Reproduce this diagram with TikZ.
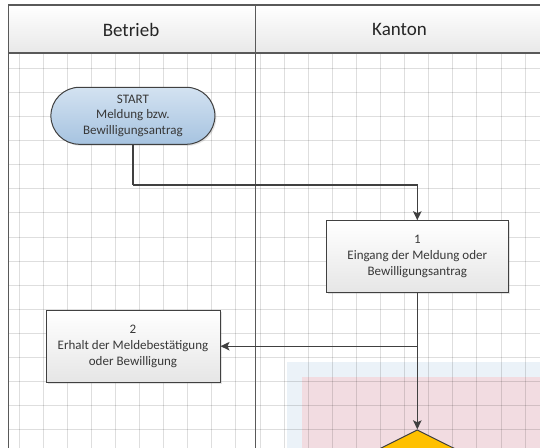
\documentclass[tikz,border=0pt]{standalone}
\usepackage{fontspec}
\setmainfont{Carlito}
\usetikzlibrary{arrows.meta,shapes.geometric,shadows}
\definecolor{linegray}{HTML}{404040}
\definecolor{lanegray}{HTML}{595959}
\definecolor{txtgray}{HTML}{383838}
\definecolor{bluebg}{HTML}{EBF2F8}
\definecolor{pinkbg}{HTML}{F2DCE1}
\definecolor{startTop}{HTML}{D3E2F1}
\definecolor{startBot}{HTML}{A6C3E0}
\definecolor{decision}{HTML}{FFC000}
\tikzset{
  gridline/.style={draw=black, draw opacity=0.13, line width=1pt},
  lane/.style={draw=lanegray, line width=1.6pt},
  hdr/.style={font=\fontsize{19}{22}\selectfont, text=black!85},
  boxbase/.style={draw=linegray, line width=1pt, align=center, text=txtgray,
    font=\fontsize{13}{15.8}\selectfont, inner sep=0pt,
    drop shadow={shadow xshift=1.5pt, shadow yshift=-1.5pt, opacity=0.22}},
  startbox/.style={boxbase, rounded corners=28.5pt, top color=startTop, bottom color=startBot},
  procbox/.style={boxbase, top color=white, bottom color=black!10},
  decbox/.style={diamond, aspect=2, draw=linegray, line width=1pt, fill=decision, inner sep=0pt,
    minimum width=140pt, minimum height=70pt},
  conn/.style={draw=linegray, line width=1.2pt, -{Stealth[length=9pt,width=8.5pt,inset=2pt]}},
  plain/.style={draw=linegray, line width=1.2pt}
}
\begin{document}
\begin{tikzpicture}[x=1pt,y=-1pt]
\useasboundingbox (0,0) rectangle (540,447);
\clip (0,0) rectangle (540,447);
% highlighted areas
\fill[bluebg] (286.7,361.7) rectangle (600,460);
\fill[pinkbg] (301.7,377.3) rectangle (600,460);
% grid
\begin{scope}
  \clip (8.5,52.7) rectangle (600,460);
  \foreach \i in {0,...,23} \draw[gridline] ({19+24.1*\i},40) -- ({19+24.1*\i},460);
  \foreach \j in {-1,...,17} \draw[gridline] (0,{68.3+24.1*\j}) -- (600,{68.3+24.1*\j});
\end{scope}
% header
\shade[top color=white, bottom color=black!9] (8.5,5) rectangle (600,52.7);
\draw[lane] (8.5,460) -- (8.5,5) -- (600,5);
\draw[lane] (8.5,52.7) -- (600,52.7);
\draw[lane] (255.5,5) -- (255.5,460);
\node[hdr] (hBetrieb) at (131,29.5) {Betrieb};
\node[hdr] (hKanton) at (399.5,29.5) {Kanton};
% nodes
\node[startbox, minimum width=164pt, minimum height=57pt] (start) at (132.9,115.8)
  {START\\Meldung bzw.\\Bewilligungsantrag};
\node[procbox, minimum width=182pt, minimum height=72pt] (box1) at (417.3,256.7)
  {1\\Eingang der Meldung oder\\Bewilligungsantrag};
\node[procbox, minimum width=174pt, minimum height=72pt] (box2) at (133,346.2)
  {2\\Erhalt der Meldebestätigung\\oder Bewilligung};
\node[decbox] (dia) at (417.3,464.8) {};
% connectors
\coordinate (turn) at (132.9,185);
\coordinate (split) at (box1.south |- box2.east);
\draw[plain] (start.south) -- (turn);
\draw[conn] (turn) -| (box1.north);
\draw[conn] (box1.south) -- (dia.north);
\draw[conn] (split) -- (box2.east);
\end{tikzpicture}
\end{document}
